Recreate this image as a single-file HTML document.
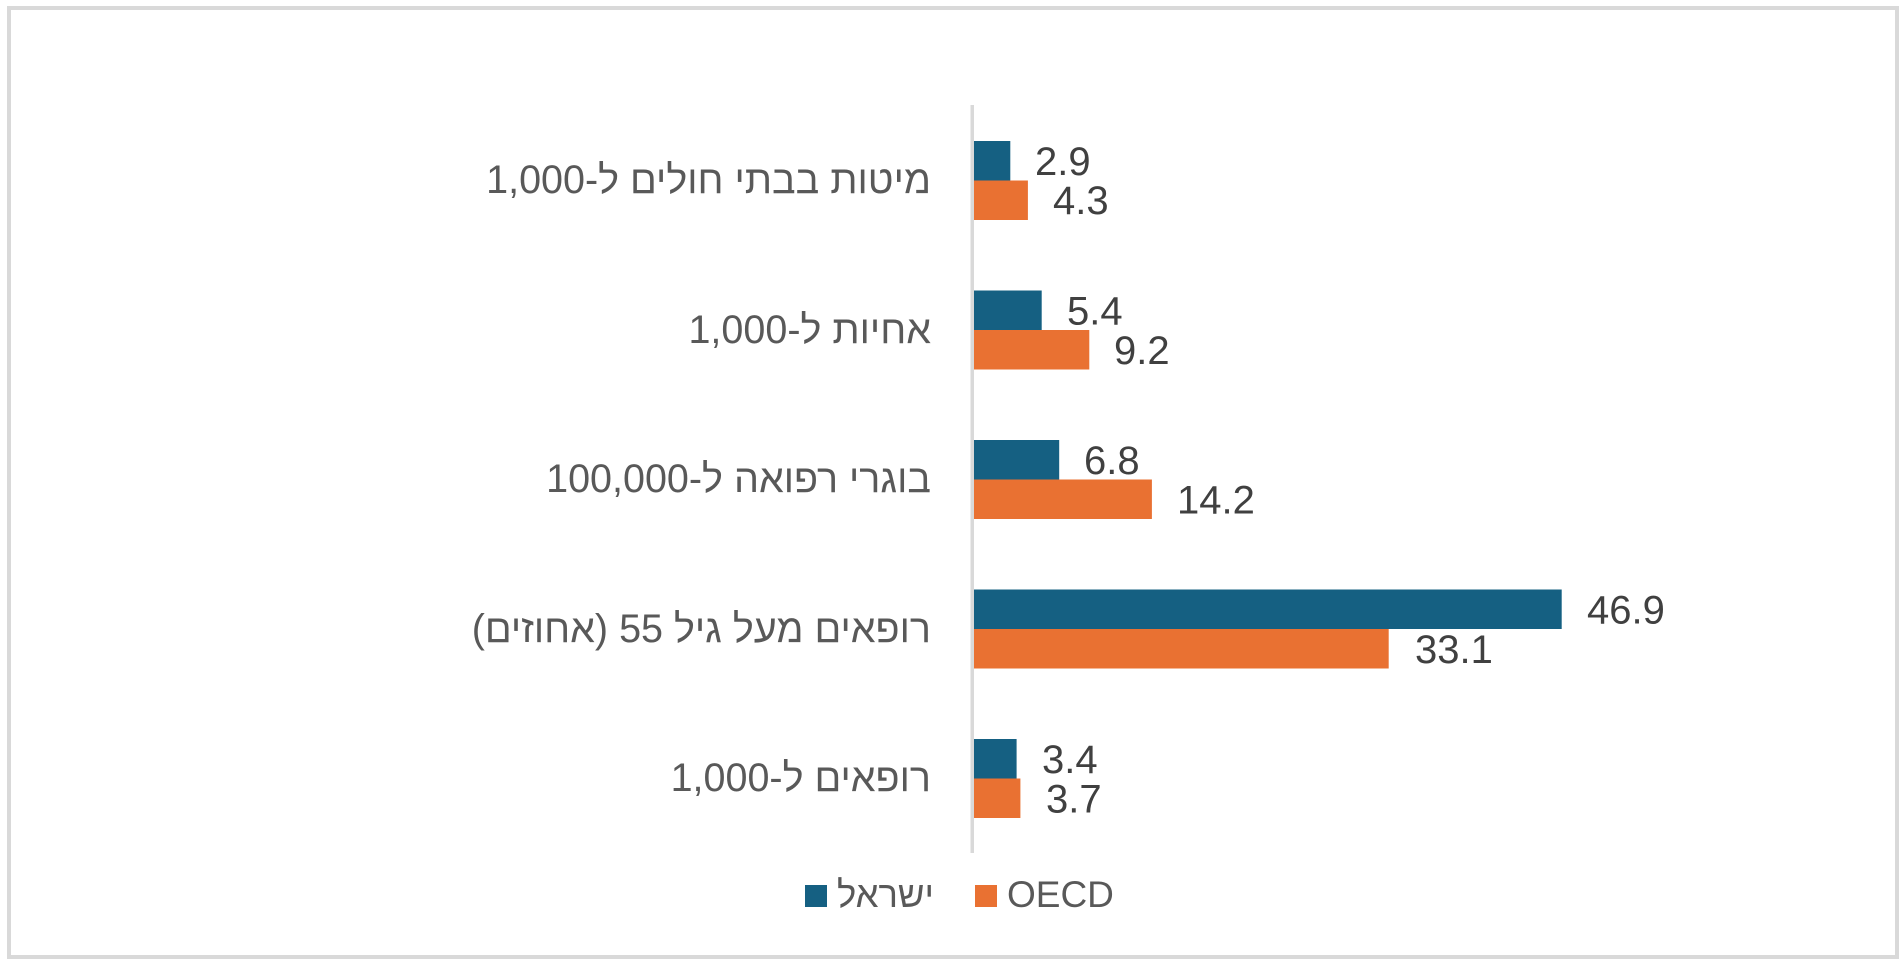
<!DOCTYPE html>
<html>
<head>
<meta charset="utf-8">
<style>
  html,body{margin:0;padding:0;background:#fff;}
  body{width:1902px;height:961px;position:relative;overflow:hidden;font-family:"Liberation Sans","Noto Sans CJK SC",sans-serif;}
  .frame{position:absolute;left:7px;top:6px;width:1884px;height:945px;border:4px solid #d9d9d9;}
  .cat{position:absolute;right:971px;font-size:39.5px;line-height:44px;color:#595959;white-space:nowrap;direction:rtl;text-align:right;}
  svg{position:absolute;left:0;top:0;}
</style>
</head>
<body>
<div class="frame"></div>

<div class="cat" style="top:158px;">מיטות בבתי חולים ל-1,000</div>
<div class="cat" style="top:307.5px;">אחיות ל-1,000</div>
<div class="cat" style="top:457px;">בוגרי רפואה ל-100,000</div>
<div class="cat" style="top:606.5px;">רופאים מעל גיל 55 (אחוזים)</div>
<div class="cat" style="top:756px;">רופאים ל-1,000</div>

<svg width="1902" height="961" viewBox="0 0 1902 961" xmlns="http://www.w3.org/2000/svg">
  <!-- axis -->
  <rect x="970.5" y="105" width="3.5" height="748" fill="#d9d9d9"/>

  <rect x="974" y="141" width="36.3" height="39.5" fill="#156082"/>
  <rect x="974" y="180.5" width="53.9" height="39.5" fill="#E97132"/>
  <rect x="974" y="290.5" width="67.7" height="39.5" fill="#156082"/>
  <rect x="974" y="330" width="115.3" height="39.5" fill="#E97132"/>
  <rect x="974" y="440" width="85.2" height="39.5" fill="#156082"/>
  <rect x="974" y="479.5" width="177.9" height="39.5" fill="#E97132"/>
  <rect x="974" y="589.5" width="587.7" height="39.5" fill="#156082"/>
  <rect x="974" y="629" width="414.7" height="39.5" fill="#E97132"/>
  <rect x="974" y="739" width="42.6" height="39.5" fill="#156082"/>
  <rect x="974" y="778.5" width="46.4" height="39.5" fill="#E97132"/>

  <g font-family="Liberation Sans, sans-serif" font-size="40" fill="#404040">
    <text x="1035" y="175">2.9</text>
    <text x="1053" y="214">4.3</text>
    <text x="1067" y="324.5">5.4</text>
    <text x="1114" y="364">9.2</text>
    <text x="1084" y="474">6.8</text>
    <text x="1177" y="513.5">14.2</text>
    <text x="1587" y="623.5">46.9</text>
    <text x="1415" y="663">33.1</text>
    <text x="1042" y="773">3.4</text>
    <text x="1046" y="812.5">3.7</text>
  </g>

  <!-- legend -->
  <rect x="805" y="885" width="22" height="22" fill="#156082"/>
  <text x="837" y="907" font-family="Liberation Sans, sans-serif" font-size="37" fill="#595959" textLength="97" lengthAdjust="spacingAndGlyphs">ישראל</text>
  <rect x="975" y="885" width="22" height="22" fill="#E97132"/>
  <text x="1007" y="907" font-family="Liberation Sans, sans-serif" font-size="37" fill="#595959">OECD</text>
</svg>
</body>
</html>
